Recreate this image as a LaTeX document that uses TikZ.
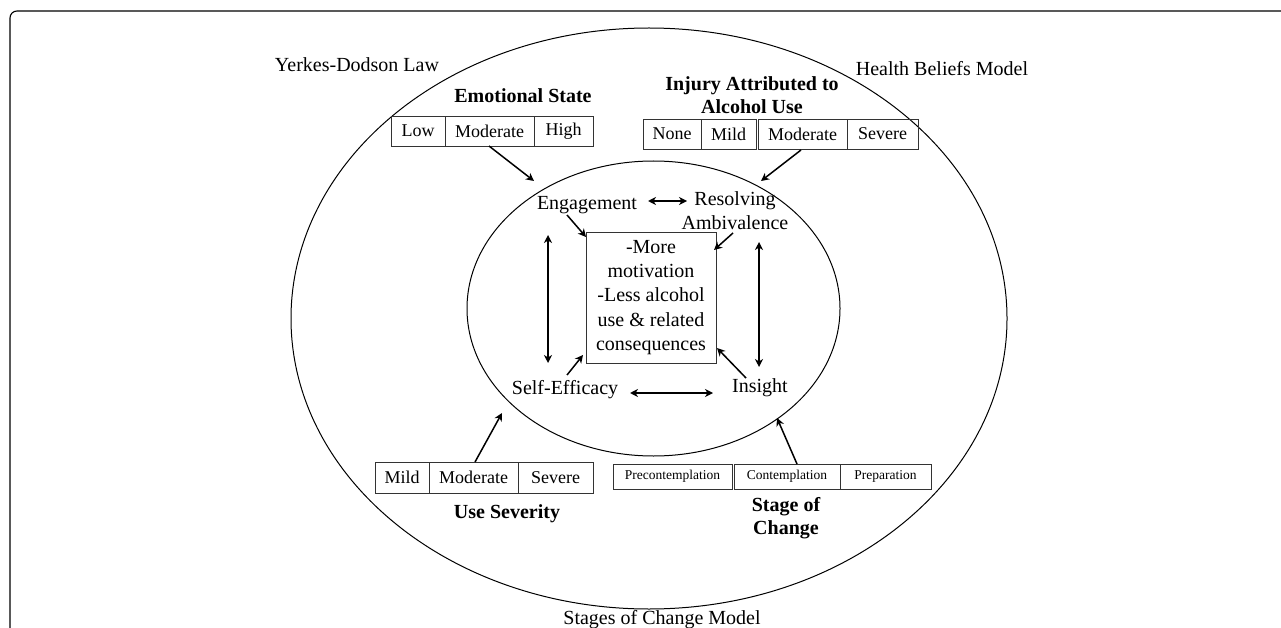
\documentclass[tikz,border=0pt]{standalone}
\usepackage{fontspec}
\setmainfont{Liberation Serif}
\usetikzlibrary{arrows.meta}
\tikzset{
  lbl/.style={inner sep=0pt, font=\fontsize{20}{24}\selectfont},
  ttl/.style={inner sep=0pt, align=center, font=\fontsize{20}{23}\selectfont\bfseries},
  cell/.style={draw=black!80, line width=0.9pt, inner sep=0pt, minimum height=30pt, font=\fontsize{18}{20}\selectfont},
  scell/.style={draw=black!80, line width=0.9pt, inner sep=0pt, minimum height=25pt, font=\fontsize{13.5}{15}\selectfont},
  tip/.tip={Stealth[length=8pt,width=8pt,inset=2.5pt]},
  arr/.style={line width=1.5pt, -tip},
  darr/.style={line width=1.5pt, tip-tip},
  ring/.style={line width=1pt},
}
\begin{document}
\begin{tikzpicture}[x=1pt,y=-1pt]
\useasboundingbox (0,0) rectangle (1281,628);
% frame
\draw[line width=1.1pt, rounded corners=7pt] (10,660) -- (10,11) -- (1300,11);
% ellipses
\draw[ring] (649,318.5) ellipse [x radius=358pt, y radius=290.5pt];
\draw[ring] (653.5,308.5) ellipse [x radius=186.5pt, y radius=147.5pt];
% outer labels
\node[lbl] (yd) at (357,65) {Yerkes-Dodson Law};
\node[lbl] (hbm) at (942,69) {Health Beliefs Model};
\node[lbl] (scm) at (662,620) {Stages of Change Model};
% titles
\node[ttl] (esT) at (523,96) {Emotional State};
\node[ttl] (injT) at (752,95.5) {Injury Attributed to\\Alcohol Use};
\node[ttl] (usT) at (507,514) {Use Severity};
\node[ttl] (socT) at (786,518.5) {Stage of\\Change};
% Emotional state table
\node[cell, minimum width=54pt] (esLow) at (418,131) {Low};
\node[cell, minimum width=89pt] (esMod) at (489.5,131) {Moderate};
\node[cell, minimum width=59pt] (esHigh) at (563.5,131) {High};
% Injury table
\node[cell, minimum width=58pt] (injNone) at (672,134) {None};
\node[cell, minimum width=55pt] (injMild) at (728.5,134) {Mild};
\node[cell, minimum width=89pt] (injMod) at (802.5,134) {Moderate};
\node[cell, minimum width=71pt] (injSev) at (882.5,134) {Severe};
% Use severity table
\node[cell, minimum width=54pt, minimum height=31pt] (usMild) at (402,477.5) {Mild};
\node[cell, minimum width=89pt, minimum height=31pt] (usMod) at (473.5,477.5) {Moderate};
\node[cell, minimum width=75pt, minimum height=31pt] (usSev) at (555.5,477.5) {Severe};
% Stage table
\node[scell, minimum width=119pt] (stPre) at (672.5,476.5) {Precontemplation};
\node[scell, minimum width=106pt] (stCon) at (787,476.5) {Contemplation};
\node[scell, minimum width=91pt] (stPrep) at (885.5,476.5) {Preparation};
% inner nodes
\node[lbl] (eng) at (587,205) {Engagement};
\node[lbl, align=center] (res) at (735,211) {Resolving\\Ambivalence};
\node[lbl] (se) at (565,390) {Self-Efficacy};
\node[lbl] (ins) at (760,388) {Insight};
\node[draw=black!80, line width=0.9pt, inner sep=0pt, minimum width=130pt, minimum height=131pt,
      align=center, font=\fontsize{20}{24.3}\selectfont] (box) at (651,297.5)
  {-More\\motivation\\-Less alcohol\\use \& related\\consequences};
% connector end points
\coordinate (esTip) at (534,181);
\coordinate (injTip) at (761,181);
\coordinate (usTip) at (502,413);
\coordinate (stTip) at (777,418);
\coordinate (usStart) at (475,462);
\coordinate (stStart) at (797,464);
\coordinate (esStart) at (489,146);
\coordinate (injStart) at (801,150);
\coordinate (er1) at (648,201);
\coordinate (er2) at (687,201);
\coordinate (si1) at (630,393);
\coordinate (si2) at (713,393);
\coordinate (lv1) at (548,235);
\coordinate (lv2) at (548,363);
\coordinate (rv1) at (759,242);
\coordinate (rv2) at (759,367);
\coordinate (engA) at (567,215);
\coordinate (engB) at (586,237);
\coordinate (resA) at (733,233);
\coordinate (resB) at (714,250);
\coordinate (seA) at (567,375);
\coordinate (seB) at (583,355);
\coordinate (insA) at (746,378);
\coordinate (insB) at (717,348);
% connectors
\draw[arr] (esStart) -- (esTip);
\draw[arr] (injStart) -- (injTip);
\draw[arr] (usStart) -- (usTip);
\draw[arr] (stStart) -- (stTip);
\draw[darr] (er1) -- (er2);
\draw[darr] (si1) -- (si2);
\draw[darr] (lv1) -- (lv2);
\draw[darr] (rv1) -- (rv2);
\draw[arr] (engA) -- (engB);
\draw[arr] (resA) -- (resB);
\draw[arr] (seA) -- (seB);
\draw[arr] (insA) -- (insB);
\end{tikzpicture}
\end{document}
